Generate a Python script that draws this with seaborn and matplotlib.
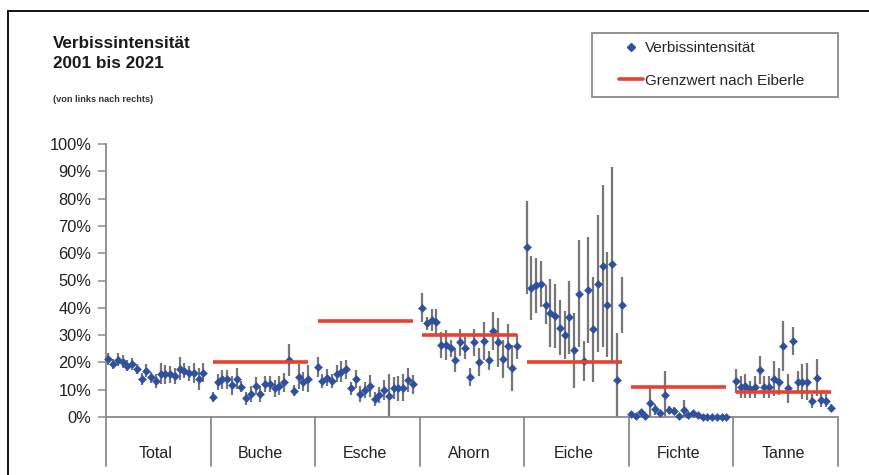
import numpy as np
import pandas as pd
import matplotlib
matplotlib.use("Agg")
import matplotlib.pyplot as plt
from matplotlib.lines import Line2D
from matplotlib.patches import Rectangle
import seaborn as sns

# ---------------- data ----------------
categories = ["Total", "Buche", "Esche", "Ahorn", "Eiche", "Fichte", "Tanne"]
years = list(range(2001, 2022))

total = [21.2, 19.5, 21.0, 20.2, 18.8, 19.3, 17.6, 13.9, 17.0, 14.5, 13.2, 15.9, 15.6, 15.6, 15.1, 17.7, 17.0, 16.0, 16.0, 13.9, 16.3]
total_err = [2.2, 1.8, 2.4, 2.4, 2.1, 2.2, 1.8, 2.1, 2.4, 2.1, 2.4, 3.9, 3.6, 3.0, 3.0, 4.1, 2.7, 2.7, 3.6, 4.0, 3.6]

buche = [7.2, 12.8, 13.8, 13.8, 11.7, 14.1, 11.1, 6.8, 8.4, 11.5, 8.4, 12.0, 12.0, 10.5, 11.5, 12.7, 20.9, 9.6, 14.8, 12.9, 14.0]
buche_err = [1.8, 3.0, 3.5, 3.5, 3.5, 3.7, 2.0, 2.5, 3.0, 3.0, 3.0, 3.0, 3.0, 3.0, 3.5, 3.5, 6.0, 2.0, 4.5, 3.5, 5.0]

esche = [18.3, 13.2, 14.4, 13.2, 15.9, 16.6, 17.4, 10.5, 13.9, 8.5, 9.8, 11.5, 6.6, 8.0, 9.9, 7.7, 10.5, 10.5, 10.7, 13.5, 12.0]
esche_err = [3.8, 2.5, 3.0, 2.5, 3.0, 3.9, 3.5, 2.5, 3.4, 3.0, 3.0, 4.0, 2.5, 3.0, 3.5, 8.0, 4.0, 4.5, 5.0, 4.4, 3.5]

ahorn = [40.1, 34.3, 35.5, 34.9, 26.3, 26.3, 25.1, 20.9, 27.4, 25.4, 14.5, 27.3, 20.2, 27.7, 20.7, 31.6, 27.3, 21.2, 25.9, 18.0, 25.9]
ahorn_err = [5.2, 2.5, 4.0, 4.8, 4.8, 5.5, 3.0, 4.5, 5.0, 4.0, 3.3, 5.0, 5.0, 7.0, 3.6, 7.0, 9.0, 7.0, 8.0, 8.5, 4.6]

eiche = [62.1, 47.1, 48.2, 48.8, 41.2, 38.2, 37.0, 32.7, 30.2, 36.6, 24.5, 45.2, 20.5, 46.5, 32.1, 48.9, 55.2, 41.2, 56.0, 13.7, 41.0]
eiche_err = [17.0, 11.7, 10.0, 8.5, 7.3, 12.5, 11.6, 10.0, 8.8, 13.4, 13.7, 19.5, 7.3, 19.5, 19.2, 25.0, 29.6, 19.2, 35.7, 17.0, 10.4]

fichte = [1.0, 0.5, 1.7, 0.5, 5.0, 2.9, 1.3, 8.0, 2.6, 2.3, 0.4, 2.6, 0.7, 1.3, 0.7, 0.1, 0.1, 0.1, 0.1, 0.1, 0.0]
fichte_err = [1.0, 0.5, 1.0, 0.5, 5.5, 2.0, 1.0, 8.8, 1.5, 1.5, 0.5, 3.6, 0.7, 1.0, 0.7, 0.3, 0.3, 0.3, 0.3, 0.3, 0.2]

tanne = [13.2, 10.9, 11.3, 10.1, 11.1, 17.2, 10.9, 10.9, 14.1, 12.9, 26.0, 10.5, 27.9, 12.9, 12.9, 12.9, 5.9, 14.4, 6.2, 6.0, 3.4]
tanne_err = [4.5, 4.0, 4.5, 3.0, 4.0, 5.0, 4.0, 4.0, 6.4, 5.0, 9.0, 5.4, 5.2, 4.0, 6.4, 6.7, 2.5, 6.8, 2.5, 2.5, 1.5]

grenzwert = [None, 20, 35, 30, 20, 11, 9]

values = [total, buche, esche, ahorn, eiche, fichte, tanne]
errors = [total_err, buche_err, esche_err, ahorn_err, eiche_err, fichte_err, tanne_err]

ytick_vals = list(range(0, 101, 10))
ytick_labels = [f"{v}%" for v in ytick_vals]

# ---------------- build table ----------------
SLOTS = 22  # 21 years + 1 gap slot per category
rows = []
for g, (cat, vals, errs) in enumerate(zip(categories, values, errors)):
    for i, (yr, v, e) in enumerate(zip(years, vals, errs)):
        rows.append({"cat": cat, "year": yr, "x": g * SLOTS + i, "v": v,
                     "lo": max(0.0, v - e), "hi": v + e})
df = pd.DataFrame(rows)

# ---------------- style ----------------
sns.set_style("white")
plt.rcParams["font.family"] = ["Liberation Sans", "DejaVu Sans"]

BLUE = "#2f4f9f"
GRAY = "#767676"
RED = "#e8412f"
AXC = "#8a8a8a"

W, H = 869, 475
fig = plt.figure(figsize=(W / 100, H / 100), dpi=100)
ax = fig.add_axes([106 / W, (H - 417) / H, (838 - 106) / W, 273 / H])

# error bars
ax.vlines(df["x"], df["lo"], df["hi"], color=GRAY, lw=1.6, zorder=2)

# points
sns.scatterplot(data=df, x="x", y="v", marker="D", s=17, color=BLUE,
                edgecolor=BLUE, linewidth=0.3, ax=ax, zorder=3, clip_on=False,
                legend=False)

# threshold lines
for g, gw in enumerate(grenzwert):
    if gw is None:
        continue
    sub = df[df["cat"] == categories[g]]
    ax.hlines(gw, sub["x"].min(), sub["x"].max(), color=RED, lw=2.6, zorder=4)

ax.set_xlim(-0.5, len(categories) * SLOTS - 0.5)
ax.set_ylim(0, 100)
ax.set_xlabel("")
ax.set_ylabel("")
ax.set_xticks([])
ax.set_yticks(ytick_vals)
ax.set_yticklabels(ytick_labels, fontsize=11.8, color="#222222")
ax.tick_params(axis="y", direction="out", length=5.5, width=1.1, color=AXC, pad=5, left=True)

for s in ["top", "right"]:
    ax.spines[s].set_visible(False)
for s in ["left", "bottom"]:
    ax.spines[s].set_color(AXC)
    ax.spines[s].set_linewidth(1.3)

# category dividers and labels below the axis
y_div = -(466 - 417) / 273 * 100
y_lab = -(454 - 417) / 273 * 100
for g in range(len(categories) + 1):
    xb = g * SLOTS - 0.5
    ax.plot([xb, xb], [0, y_div], color=AXC, lw=1.3, clip_on=False)
for g, cat in enumerate(categories):
    xc = g * SLOTS + (SLOTS - 1) / 2 - 0.5
    ax.text(xc, y_lab, cat, ha="center", va="center", fontsize=11.5, color="#222222",
            clip_on=False)

# titles
fig.text(53 / W, 1 - 48 / H, "Verbissintensität", fontsize=12.3, fontweight="bold",
         va="baseline", ha="left", color="#1a1a1a")
fig.text(53 / W, 1 - 68 / H, "2001 bis 2021", fontsize=12.3, fontweight="bold",
         va="baseline", ha="left", color="#1a1a1a")
fig.text(53 / W, 1 - 102 / H, "(von links nach rechts)", fontsize=6.6, fontweight="bold",
         va="baseline", ha="left", color="#333333")

# legend box
fig.add_artist(Rectangle((592 / W, 1 - 97 / H), 246 / W, 64 / H, transform=fig.transFigure,
                         facecolor="white", edgecolor="#8a8a8a", lw=1.3, zorder=5))
handles = [Line2D([], [], marker="D", ls="none", color=BLUE, ms=4.0),
           Line2D([], [], color=RED, lw=2.6)]
labels = ["Verbissintensität", "Grenzwert nach Eiberle"]
fig.legend(handles, labels, loc="upper left", bbox_to_anchor=(619 / W, 1 - 41 / H),
           bbox_transform=fig.transFigure, frameon=False, fontsize=11,
           handlelength=1.55, handletextpad=0.15, labelspacing=1.22,
           borderpad=0, borderaxespad=0).set_zorder(6)

# outer frame (top and left edges visible)
fig.add_artist(Line2D([8 / W, 1.0], [1 - 11 / H, 1 - 11 / H], transform=fig.transFigure,
                      color="black", lw=1.3))
fig.add_artist(Line2D([8 / W, 8 / W], [0, 1 - 11 / H], transform=fig.transFigure,
                      color="black", lw=1.3))

fig.savefig("out.png", dpi=100)
